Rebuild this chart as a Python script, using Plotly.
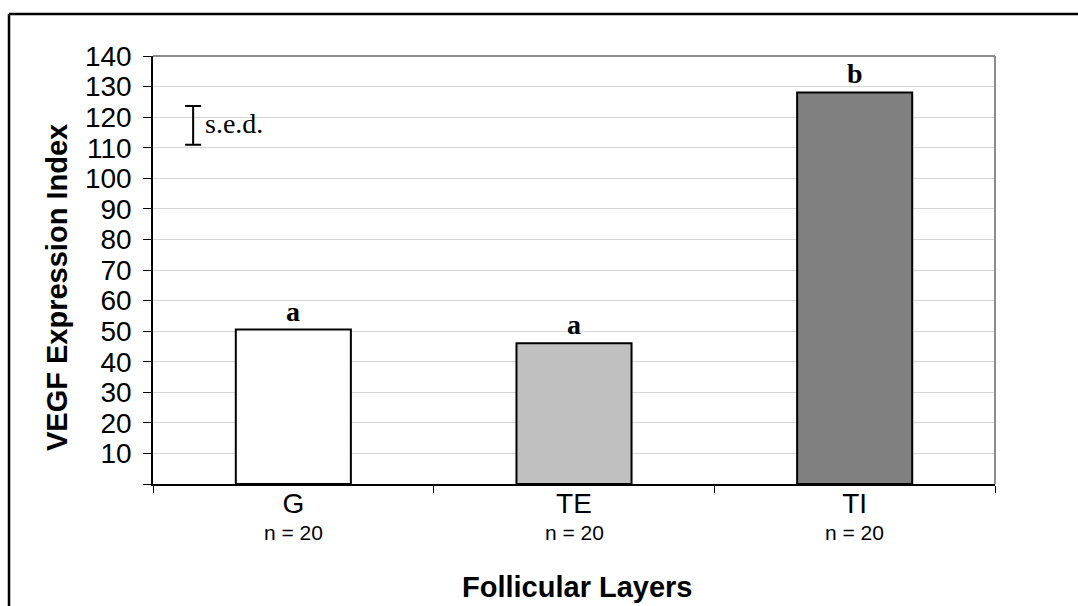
import plotly.graph_objects as go

categories = ["G", "TE", "TI"]
values = [50.5, 46.0, 128.1]
bar_colors = ["#FFFFFF", "#C0C0C0", "#808080"]
sig_letters = ["a", "a", "b"]
n_labels = ["n = 20", "n = 20", "n = 20"]
y_ticks = list(range(0, 141, 10))
y_ticktext = [""] + [str(v) for v in y_ticks[1:]]
sed_center = 117.3
sed_value = 12.7
sed_x = -0.357

W, H = 1078, 606
L, R, T, B = 153, 83, 56, 122
pw, ph = W - L - R, H - T - B

def px(x):
    return (x - L) / pw

def py(y):
    return (H - B - y) / ph

fig = go.Figure()
fig.add_trace(go.Bar(
    x=categories, y=values,
    marker=dict(color=bar_colors, line=dict(color="black", width=2)),
    width=0.41, showlegend=False, hoverinfo="x+y",
))
fig.add_trace(go.Scatter(
    x=[sed_x], y=[sed_center], xaxis="x2", mode="markers",
    marker=dict(size=1, color="rgba(0,0,0,0)"),
    error_y=dict(type="constant", value=sed_value / 2, color="black",
                 thickness=2, width=8),
    showlegend=False, hoverinfo="skip",
))

annotations = []
for c, v, s in zip(categories, values, sig_letters):
    annotations.append(dict(x=c, y=v, xref="x", yref="y", text="<b>%s</b>" % s, showarrow=False,
                            yanchor="bottom", yshift=1,
                            font=dict(family="Liberation Serif", size=28, color="black")))
for c, n in zip(categories, n_labels):
    annotations.append(dict(x=c, y=py(532), xref="x", yref="paper", text=n, showarrow=False,
                            yanchor="middle",
                            font=dict(family="Liberation Sans", size=21, color="black")))
annotations.append(dict(x=sed_x, y=sed_center, xref="x2", yref="y", text="s.e.d.",
                        showarrow=False, xanchor="left", xshift=10, yshift=2,
                        font=dict(family="Liberation Serif", size=28, color="black")))
annotations.append(dict(x=px(57), y=py(288), xref="paper", yref="paper",
                        xanchor="center", yanchor="middle",
                        text="<b>VEGF Expression Index</b>", textangle=-90, showarrow=False,
                        font=dict(family="Liberation Sans", size=29, color="black")))
annotations.append(dict(x=px(577), y=py(587), xref="paper", yref="paper",
                        xanchor="center", yanchor="middle",
                        text="<b>Follicular Layers</b>", showarrow=False,
                        font=dict(family="Liberation Sans", size=29, color="black")))

shapes = [
    dict(type="line", xref="paper", yref="paper", x0=0, x1=1, y0=1, y1=1,
         line=dict(color="#8C8C8C", width=2)),
    dict(type="line", xref="paper", yref="paper", x0=1, x1=1, y0=0, y1=1,
         line=dict(color="#8C8C8C", width=2)),
    dict(type="line", xref="paper", yref="paper", x0=px(9), x1=px(1085), y0=py(14), y1=py(14),
         line=dict(color="black", width=2.5)),
    dict(type="line", xref="paper", yref="paper", x0=px(9), x1=px(9), y0=py(14), y1=py(620),
         line=dict(color="black", width=2.5)),
]

fig.update_layout(
    width=W, height=H,
    margin=dict(l=L, r=R, t=T, b=B, pad=0),
    paper_bgcolor="white", plot_bgcolor="white",
    bargap=0.59,
    font=dict(family="Liberation Sans", color="black"),
    xaxis=dict(
        type="category", tickson="boundaries", ticks="outside", ticklen=7,
        tickwidth=1, tickcolor="black", showline=True, linecolor="black", linewidth=1.5,
        showgrid=False, tickfont=dict(size=28, family="Liberation Sans"),
        ticklabelstandoff=-6,
        range=[-0.5, 2.5], fixedrange=True,
    ),
    xaxis2=dict(overlaying="x", range=[-0.5, 2.5], visible=False, fixedrange=True),
    yaxis=dict(
        range=[0, 140], tickvals=y_ticks, ticktext=y_ticktext,
        ticks="outside", ticklen=8, tickwidth=1, tickcolor="black",
        showline=True, linecolor="black", linewidth=1.5,
        showgrid=True, gridcolor="#D6D6D6", gridwidth=1.3,
        tickfont=dict(size=28, family="Liberation Sans"), zeroline=False,
        ticklabelstandoff=6,
        fixedrange=True,
    ),
    annotations=annotations,
    shapes=shapes,
)

fig.write_html("out.html")
